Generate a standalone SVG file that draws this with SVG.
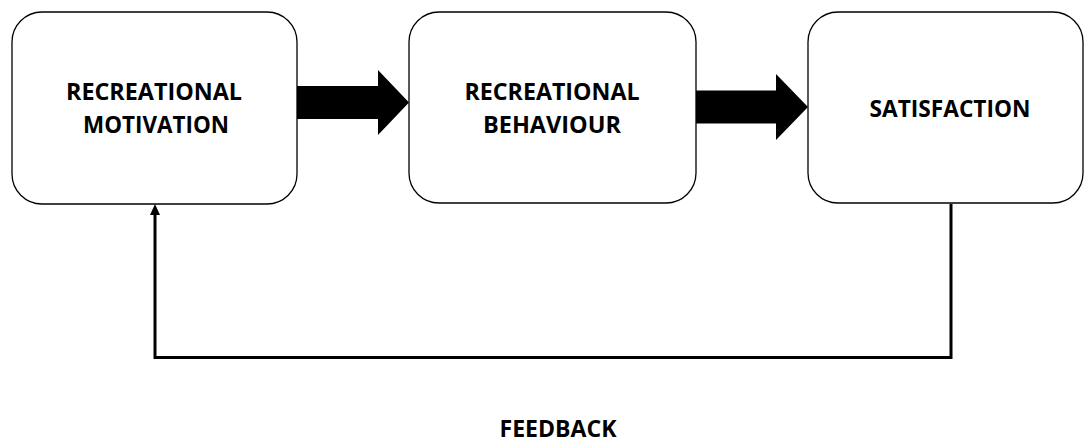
<svg xmlns="http://www.w3.org/2000/svg" width="1084" height="442" viewBox="0 0 1084 442">
<style>
.box{fill:#fff;stroke:#000;stroke-width:1.3}
.lbl{font-family:"Open Sans","Liberation Sans",Arial,sans-serif;font-weight:bold;font-size:24px;fill:#000;text-anchor:middle}
.big{fill:#000;stroke:none}
.fb{fill:none;stroke:#000;stroke-width:3}
</style>
<rect width="1084" height="442" fill="#fff"/>
<g id="connectors">
<polygon class="big" points="297,86 378,86 378,70 409,102.5 378,135 378,119 297,119"/>
<polygon class="big" points="695,90.5 776,90.5 776,74 808,107 776,140 776,123.5 695,123.5"/>
<polyline class="fb" points="951,204 951,357.5 155,357.5 155,213"/>
<polygon class="big" points="155,204 160,215 150,215"/>
</g>
<g id="node-motivation">
<rect class="box" x="12" y="12" width="285" height="192" rx="30" ry="30"/>
<text class="lbl" x="154" y="100" textLength="176" lengthAdjust="spacingAndGlyphs">RECREATIONAL</text>
<text class="lbl" x="156" y="133" textLength="146" lengthAdjust="spacingAndGlyphs">MOTIVATION</text>
</g>
<g id="node-behaviour">
<rect class="box" x="409" y="12" width="287" height="191" rx="30" ry="30"/>
<text class="lbl" x="552" y="100" textLength="175" lengthAdjust="spacingAndGlyphs">RECREATIONAL</text>
<text class="lbl" x="552" y="133" textLength="138" lengthAdjust="spacingAndGlyphs">BEHAVIOUR</text>
</g>
<g id="node-satisfaction">
<rect class="box" x="808" y="12" width="275" height="191" rx="30" ry="30"/>
<text class="lbl" x="950" y="117" textLength="161" lengthAdjust="spacingAndGlyphs">SATISFACTION</text>
</g>
<g id="label-feedback">
<text class="lbl" x="558" y="437" textLength="117" lengthAdjust="spacingAndGlyphs">FEEDBACK</text>
</g>
</svg>
